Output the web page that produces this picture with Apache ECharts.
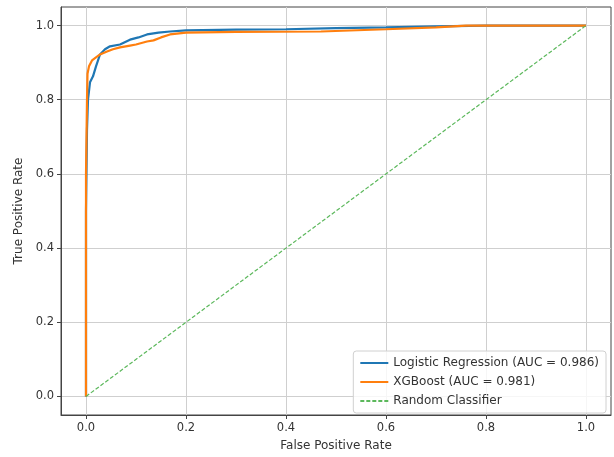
<!DOCTYPE html>
<html>
<head>
<meta charset="utf-8">
<script src="https://cdn.jsdelivr.net/npm/echarts@6/dist/echarts.min.js"></script>
<style>
  html, body { margin: 0; padding: 0; background: #fff; }
  #chart { width: 614px; height: 457px; }
</style>
</head>
<body>
<div id="chart"></div>
<script>
  // [fpr, tpr] pairs
  const logRegPoints = [
    [0, 0], [0, 0.5], [0.002, 0.72], [0.004, 0.80], [0.008, 0.847], [0.014, 0.863],
    [0.02, 0.89], [0.028, 0.922], [0.038, 0.936], [0.048, 0.944], [0.068, 0.949],
    [0.088, 0.962], [0.105, 0.968], [0.122, 0.976], [0.145, 0.981], [0.168, 0.984],
    [0.2, 0.987], [0.3, 0.989], [0.4, 0.99], [0.5, 0.993], [0.6, 0.995], [0.7, 0.998],
    [0.8, 1.0], [1.0, 1.0]
  ];
  const xgbPoints = [
    [0, 0], [0, 0.6], [0.002, 0.8], [0.003, 0.87], [0.006, 0.89], [0.012, 0.906],
    [0.028, 0.922], [0.042, 0.93], [0.054, 0.936], [0.068, 0.941], [0.088, 0.946],
    [0.1, 0.949], [0.122, 0.957], [0.135, 0.96], [0.15, 0.968], [0.168, 0.976],
    [0.2, 0.981], [0.3, 0.983], [0.47, 0.984], [0.6, 0.99], [0.7, 0.995],
    [0.76, 1.0], [1.0, 1.0]
  ];
  const randomPoints = [[0, 0], [1, 1]];
  const tickValues = [0, 0.2, 0.4, 0.6, 0.8, 1.0];

  const chart = echarts.init(document.getElementById('chart'));
  const font = 'DejaVu Sans';

  function axisCommon(name, nameGap) {
    return {
      type: 'value',
      min: -0.05,
      max: 1.05,
      name: name,
      nameLocation: 'middle',
      nameGap: nameGap,
      nameTextStyle: { fontFamily: font, fontSize: 12, color: '#333' },
      axisLine: { show: true, onZero: false, lineStyle: { color: '#444', width: 1 } },
      axisTick: { show: true, customValues: tickValues, length: 4, lineStyle: { color: '#444' } },
      axisLabel: {
        customValues: tickValues,
        fontFamily: font, fontSize: 11.5, color: '#333', margin: 7,
        formatter: v => v.toFixed(1)
      },
      splitLine: { show: true, customValues: tickValues, lineStyle: { color: '#cfcfcf', width: 1 } }
    };
  }

  const option = {
    animation: false,
    backgroundColor: '#fff',
    grid: {
      left: 61, right: 3, top: 7, bottom: 39,
      show: true, borderColor: '#444', borderWidth: 1
    },
    xAxis: axisCommon('False Positive Rate', 25),
    yAxis: axisCommon('True Positive Rate', 33),
    legend: {
      orient: 'vertical',
      right: 8,
      bottom: 44,
      itemWidth: 28,
      itemHeight: 10,
      itemGap: 7,
      padding: [6, 7, 6, 6],
      borderColor: '#d0d0d0',
      borderWidth: 1,
      borderRadius: 3,
      backgroundColor: 'rgba(255,255,255,0.8)',
      itemStyle: { opacity: 0 },
      textStyle: { fontFamily: font, fontSize: 12, color: '#333' },
      data: ['Logistic Regression (AUC = 0.986)', 'XGBoost (AUC = 0.981)', 'Random Classifier']
    },
    series: [
      {
        name: 'Logistic Regression (AUC = 0.986)',
        type: 'line',
        data: logRegPoints,
        symbol: 'none',
        lineStyle: { color: '#1f77b4', width: 2.2 },
        itemStyle: { color: '#1f77b4' }
      },
      {
        name: 'XGBoost (AUC = 0.981)',
        type: 'line',
        data: xgbPoints,
        symbol: 'none',
        lineStyle: { color: '#ff7f0e', width: 2.2 },
        itemStyle: { color: '#ff7f0e' }
      },
      {
        name: 'Random Classifier',
        type: 'line',
        data: randomPoints,
        symbol: 'none',
        lineStyle: { color: '#5cb85c', width: 1.2, type: [4, 2] },
        itemStyle: { color: '#5cb85c' }
      }
    ]
  };

  chart.setOption(option);
</script>
</body>
</html>
